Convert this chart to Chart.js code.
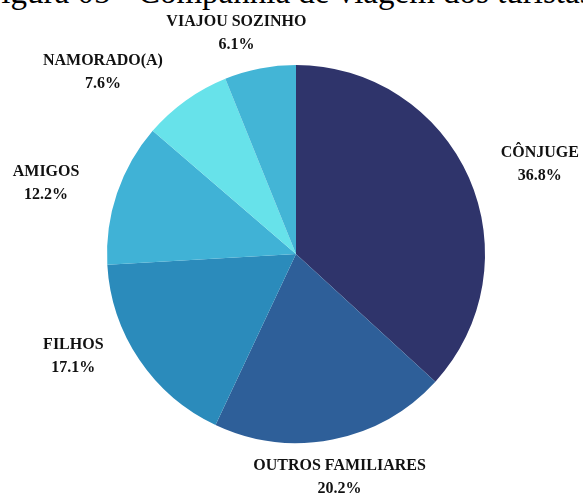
<!DOCTYPE html>
<html>
<head>
<meta charset="utf-8">
<script src="https://cdn.jsdelivr.net/npm/chart.js@4/dist/chart.umd.min.js"></script>
<style>
  html, body { margin: 0; padding: 0; background: #fff; overflow: hidden; }
  #wrap { position: relative; width: 583px; height: 498px; overflow: hidden; }
  #title {
    position: absolute; left: -17px; top: -24px; white-space: nowrap;
    font: 33px/33px "Liberation Serif", "Times New Roman", serif; color: #000;
  }
  canvas { position: absolute; left: 0; top: 0; }
</style>
</head>
<body>
<div id="wrap">
  <div id="title">Figura 05 - Companhia de viagem dos turistas</div>
  <canvas id="pieChart" width="583" height="498"></canvas>
</div>
<script>
// Chart data
const categories = ['CÔNJUGE', 'OUTROS FAMILIARES', 'FILHOS', 'AMIGOS', 'NAMORADO(A)', 'VIAJOU SOZINHO'];
const shares = [36.8, 20.2, 17.1, 12.2, 7.6, 6.1];
const shareLabels = ['36.8%', '20.2%', '17.1%', '12.2%', '7.6%', '6.1%'];
const sliceColors = ['#2f346b', '#2e5f99', '#2b8bbb', '#40b2d6', '#67e2ea', '#43b5d6'];

// Draws the category / percentage labels outside each slice
const outsideLabels = {
    id: 'outsideLabels',
    afterDatasetsDraw(chart, args, opts) {
        const ctx = chart.ctx;
        const arcs = chart.getDatasetMeta(0).data;
        ctx.save();
        ctx.fillStyle = '#111';
        ctx.textAlign = 'center';
        ctx.textBaseline = 'middle';
        ctx.font = opts.font;
        arcs.forEach((arc, i) => {
            const mid = (arc.startAngle + arc.endAngle) / 2;
            const dx = Math.cos(mid), dy = Math.sin(mid);
            const lines = [categories[i], shareLabels[i]];
            const w = Math.max(...lines.map(t => ctx.measureText(t).width));
            const h = opts.lineHeight * 2;
            const d = arc.outerRadius + opts.gap;
            const nudge = opts.nudge[i] || [0, 0];
            const cx = arc.x + dx * d + dx * w / 2 + nudge[0];
            const cy = arc.y + dy * d + dy * h / 2 + nudge[1];
            ctx.fillText(lines[0], cx, cy - opts.lineHeight / 2);
            ctx.fillText(lines[1], cx, cy + opts.lineHeight / 2);
        });
        ctx.restore();
    }
};

new Chart(document.getElementById('pieChart').getContext('2d'), {
    type: 'pie',
    data: {
        labels: categories,
        datasets: [{
            data: shares,
            backgroundColor: sliceColors,
            borderWidth: 0
        }]
    },
    options: {
        responsive: false,
        animation: false,
        layout: {
            padding: { left: 107, right: 98, top: 65, bottom: 55 }
        },
        plugins: {
            legend: { display: false },
            tooltip: { enabled: false },
            outsideLabels: {
                font: 'bold 16px "Liberation Serif", "Times New Roman", serif',
                lineHeight: 23,
                gap: 12,
                nudge: [[24, 1], [-12, 4], [-31, -23], [-28, 1], [-41, 0], [-8, -1]]
            }
        }
    },
    plugins: [outsideLabels]
});
</script>
</body>
</html>
